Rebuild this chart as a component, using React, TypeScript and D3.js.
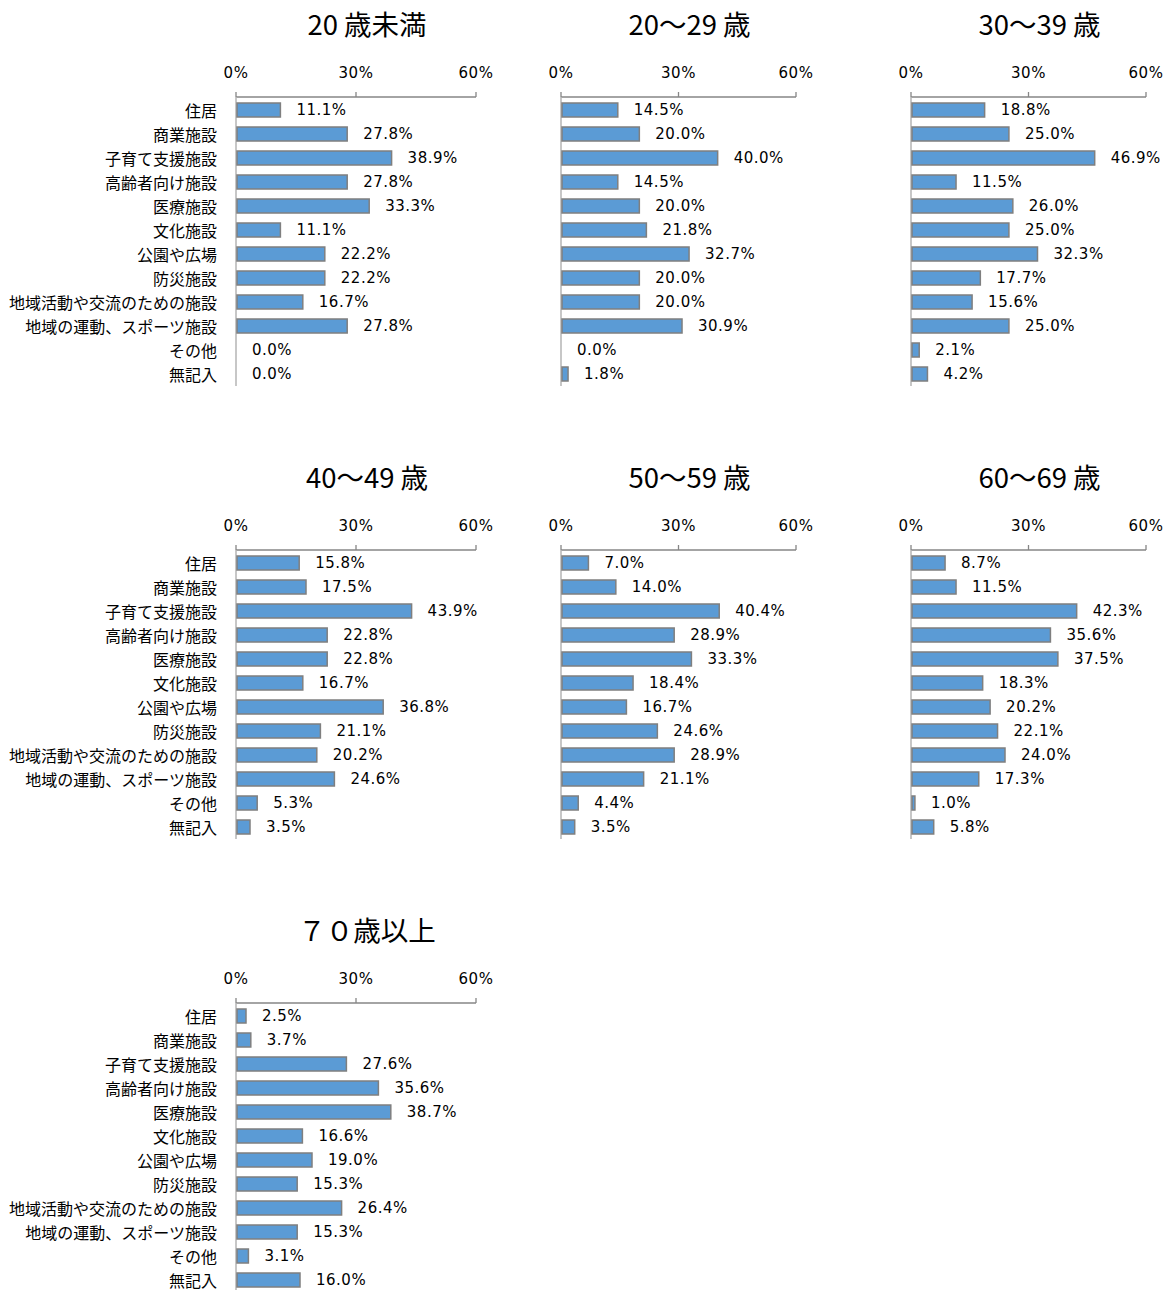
import React, { useRef, useEffect } from 'react';
import * as d3 from 'd3';

const categories = [
  '住居',
  '商業施設',
  '子育て支援施設',
  '高齢者向け施設',
  '医療施設',
  '文化施設',
  '公園や広場',
  '防災施設',
  '地域活動や交流のための施設',
  '地域の運動、スポーツ施設',
  'その他',
  '無記入',
];

const ageGroups = ['20 歳未満', '20～29 歳', '30～39 歳', '40～49 歳', '50～59 歳', '60～69 歳', '７０歳以上'];

const under20 = [11.1, 27.8, 38.9, 27.8, 33.3, 11.1, 22.2, 22.2, 16.7, 27.8, 0.0, 0.0];
const age20s = [14.5, 20.0, 40.0, 14.5, 20.0, 21.8, 32.7, 20.0, 20.0, 30.9, 0.0, 1.8];
const age30s = [18.8, 25.0, 46.9, 11.5, 26.0, 25.0, 32.3, 17.7, 15.6, 25.0, 2.1, 4.2];
const age40s = [15.8, 17.5, 43.9, 22.8, 22.8, 16.7, 36.8, 21.1, 20.2, 24.6, 5.3, 3.5];
const age50s = [7.0, 14.0, 40.4, 28.9, 33.3, 18.4, 16.7, 24.6, 28.9, 21.1, 4.4, 3.5];
const age60s = [8.7, 11.5, 42.3, 35.6, 37.5, 18.3, 20.2, 22.1, 24.0, 17.3, 1.0, 5.8];
const over70 = [2.5, 3.7, 27.6, 35.6, 38.7, 16.6, 19.0, 15.3, 26.4, 15.3, 3.1, 16.0];

const seriesValues = [under20, age20s, age30s, age40s, age50s, age60s, over70];

const tickValues = [0, 30, 60];

const numFont = '"DejaVu Sans", Verdana, sans-serif';
const jpFont = '"Noto Sans CJK JP", "Noto Sans", sans-serif';

function App() {
  const svgRef = useRef<SVGSVGElement | null>(null);
  const width = 1171;
  const height = 1290;

  // column positions of the 0% line and the axis length
  const colX = [236, 561, 911];
  const colW = [240, 235, 235];
  const rowY = [0, 453, 906];

  useEffect(() => {
    const svg = d3.select(svgRef.current);
    svg.selectAll('*').remove();

    seriesValues.forEach((values, i) => {
      const col = i % 3;
      const row = Math.floor(i / 3);
      const x0 = colX[col];
      const oy = rowY[row];

      const x = d3.scaleLinear().domain([0, 60]).range([x0, x0 + colW[col]]);
      const y = d3.scaleBand<string>()
        .domain(categories)
        .range([oy + 98, oy + 98 + 24 * categories.length]);

      const g = svg.append('g');

      // title
      g.append('text')
        .attr('x', (x(0) + x(60)) / 2 + 11)
        .attr('y', oy + 35)
        .attr('text-anchor', 'middle')
        .style('font-family', jpFont)
        .style('font-size', '27.5px')
        .attr('fill', '#000')
        .text(ageGroups[i]);

      // top axis
      g.append('line')
        .attr('x1', x(0)).attr('x2', x(60))
        .attr('y1', oy + 97).attr('y2', oy + 97)
        .attr('stroke', '#868686').attr('stroke-width', 1.3);

      g.selectAll('.tick')
        .data(tickValues)
        .join('line')
        .attr('x1', (d) => x(d)).attr('x2', (d) => x(d))
        .attr('y1', oy + 92).attr('y2', oy + 97)
        .attr('stroke', '#868686').attr('stroke-width', 1.3);

      g.selectAll('.ticklabel')
        .data(tickValues)
        .join('text')
        .attr('x', (d) => x(d))
        .attr('y', oy + 78)
        .attr('text-anchor', 'middle')
        .style('font-family', numFont)
        .style('font-size', '15px')
        .style('letter-spacing', '0.5px')
        .attr('fill', '#000')
        .text((d) => d + '%');

      // category axis
      g.append('line')
        .attr('x1', x(0)).attr('x2', x(0))
        .attr('y1', oy + 97).attr('y2', y.range()[1])
        .attr('stroke', '#b4b4b4').attr('stroke-width', 1.5);

      // bars
      g.selectAll('rect')
        .data(values)
        .join('rect')
        .attr('x', x(0) + 1)
        .attr('y', (d, j) => (y(categories[j]) as number) + 5)
        .attr('width', (d) => Math.max(0, x(d) - x(0) - 1))
        .attr('height', 14)
        .attr('fill', '#5B9BD5')
        .attr('stroke', (d) => (d > 0 ? '#7f7f7f' : 'none'))
        .attr('stroke-width', 1.5);

      // value labels
      g.selectAll('.val')
        .data(values)
        .join('text')
        .attr('x', (d) => x(d) + 16)
        .attr('y', (d, j) => (y(categories[j]) as number) + 12)
        .attr('dominant-baseline', 'central')
        .style('font-family', numFont)
        .style('font-size', '15px')
        .style('letter-spacing', '0.5px')
        .attr('fill', '#000')
        .text((d) => d.toFixed(1) + '%');

      // category labels only in the first column
      if (col === 0) {
        g.selectAll('.cat')
          .data(categories)
          .join('text')
          .attr('x', x0 - 19)
          .attr('y', (d) => (y(d) as number) + 12)
          .attr('text-anchor', 'end')
          .attr('dominant-baseline', 'central')
          .style('font-family', jpFont)
          .style('font-size', '16px')
          .attr('fill', '#000')
          .text((d) => d);
      }
    });
  }, []);

  return (
    <svg
      ref={svgRef}
      width={width}
      height={height}
      style={{ position: 'absolute', left: 0, top: 0, background: '#fff' }}
    />
  );
}

export default App;
